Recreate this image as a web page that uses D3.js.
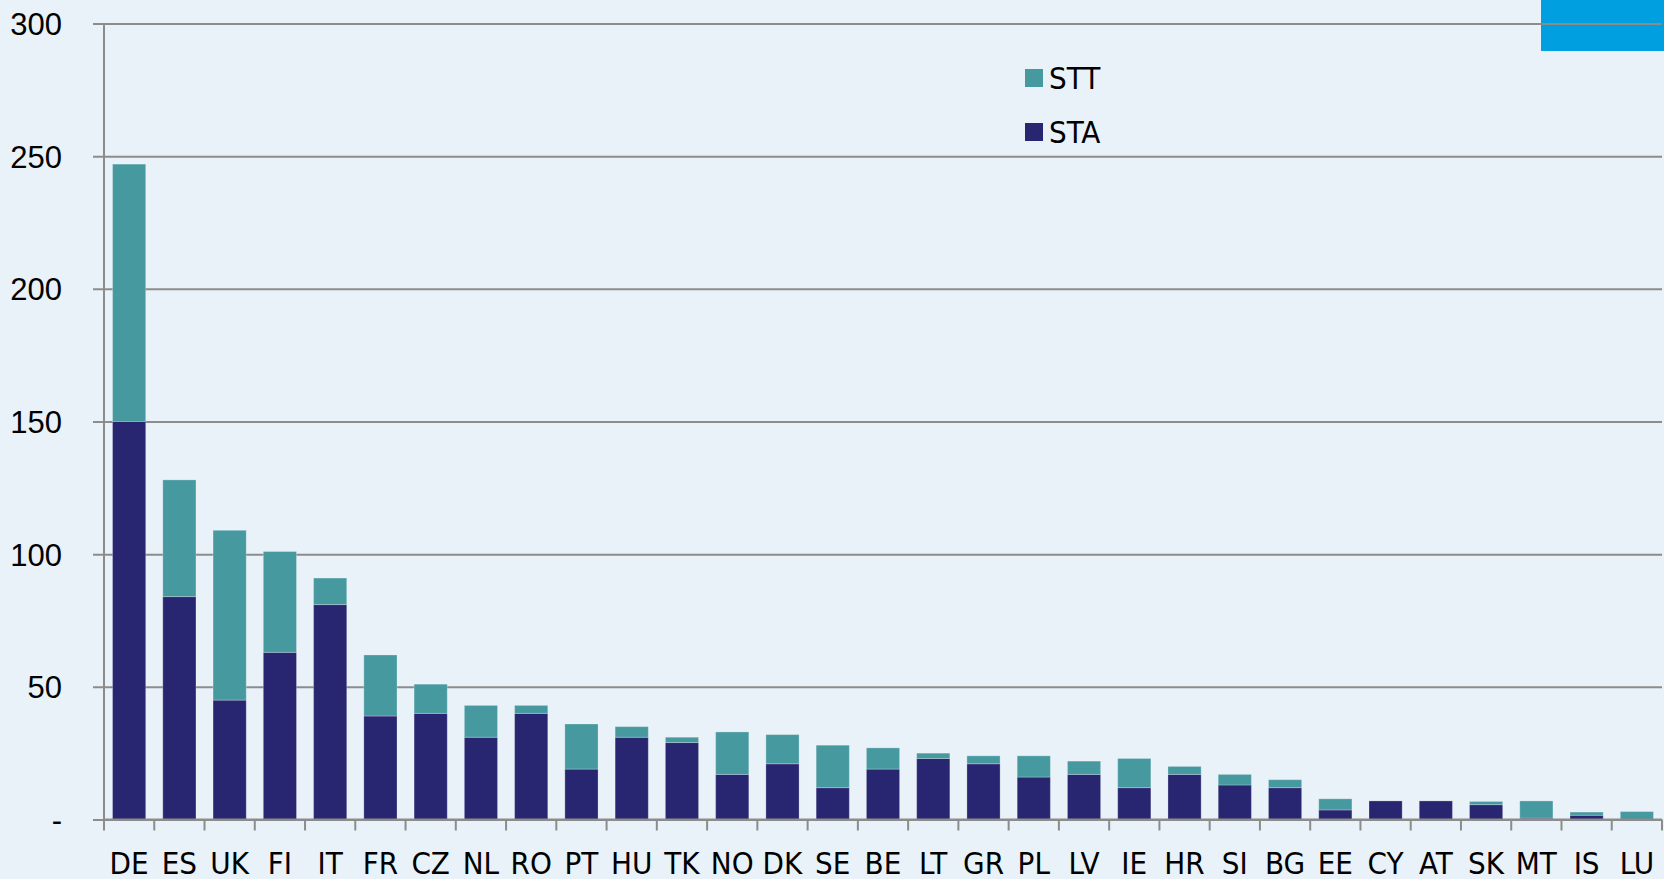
<!DOCTYPE html>
<html>
  <head>
    <meta charset="UTF-8">
    <title>STA and STT by country</title>
    <script src="https://d3js.org/d3.v7.min.js"></script>
    <style>
      :root {
        --background: #e9f2f8;
      }
      body {
        margin: 0;
        background-color: var(--background);
      }
      svg.chart {
        font-family: "DejaVu Sans Condensed", "Liberation Sans", sans-serif;
        background-color: var(--background);
        display: block;
      }
    </style>
  </head>
  <body>
    <div id="chart"></div>
    <script>

      // Data
      const countries = ["DE", "ES", "UK", "FI", "IT", "FR", "CZ", "NL", "RO", "PT", "HU", "TK", "NO", "DK", "SE",
        "BE", "LT", "GR", "PL", "LV", "IE", "HR", "SI", "BG", "EE", "CY", "AT", "SK", "MT", "IS", "LU"];
      const staValues = [150, 84, 45, 63, 81, 39, 40, 31, 40, 19, 31, 29, 17, 21, 12,
        19, 23, 21, 16, 17, 12, 17, 13, 12, 3.6, 7, 7, 5.6, 0.5, 1.6, 0];
      const sttValues = [97, 44, 64, 38, 10, 23, 11, 12, 3, 17, 4, 2, 16, 11, 16,
        8, 2, 3, 8, 5, 11, 3, 4, 3, 4.2, 0, 0, 1.2, 6.5, 1.2, 3];
      const seriesKeys = ["STA", "STT"];
      const yTicks = [0, 50, 100, 150, 200, 250, 300];

      const colors = { STA: "#282670", STT: "#4799a0" };

      // Dimensions
      const width = 1664;
      const height = 879;
      const margin = { top: 23.5, right: 2, bottom: 59.5, left: 104 };
      const innerWidth = width - margin.left - margin.right;
      const innerHeight = height - margin.top - margin.bottom;

      const svg = d3.select("#chart")
        .append("svg")
        .attr("width", width)
        .attr("height", height)
        .attr("class", "chart");

      // blue block in the top right corner
      svg.append("rect")
        .attr("x", 1541)
        .attr("y", 0)
        .attr("width", width - 1541)
        .attr("height", 51)
        .attr("fill", "#009fdf");

      const g = svg.append("g")
        .attr("transform", `translate(${margin.left}, ${margin.top})`);

      // build a table for d3.stack
      const table = countries.map((c, i) => ({ country: c, STA: staValues[i], STT: sttValues[i] }));
      const stacked = d3.stack().keys(seriesKeys)(table);

      // Scales
      const x = d3.scaleBand()
        .domain(countries)
        .range([0, innerWidth])
        .paddingInner(0.34)
        .paddingOuter(0.17);
      const y = d3.scaleLinear()
        .domain([0, 300])
        .range([innerHeight, 0]);

      // Gridlines + y axis labels
      const yAxis = d3.axisLeft(y)
        .tickValues(yTicks)
        .tickSize(-(innerWidth + 11))
        .tickFormat(d => d === 0 ? "-" : d);

      const yAxisG = g.append("g")
        .attr("transform", "translate(-11, 0)")
        .call(yAxis);
      yAxisG.select(".domain").remove();
      yAxisG.selectAll(".tick line")
        .attr("stroke", "#8c8c8c")
        .attr("stroke-width", 2);
      yAxisG.selectAll(".tick text")
        .attr("x", -31)
        .attr("dy", "0.35em")
        .attr("fill", "#000")
        .style("font-size", "31px")
        .style("font-family", "inherit");

      // Bars
      g.selectAll("g.series")
        .data(stacked)
        .enter()
        .append("g")
        .attr("class", "series")
        .attr("fill", d => colors[d.key])
        .selectAll("rect")
        .data(d => d)
        .enter()
        .append("rect")
        .attr("x", d => x(d.data.country))
        .attr("y", d => y(d[1]))
        .attr("width", x.bandwidth())
        .attr("height", d => y(d[0]) - y(d[1]))
        .attr("stroke", "rgba(255,255,255,0.25)")
        .attr("stroke-width", 1);

      // vertical axis line
      g.append("line")
        .attr("x1", 0)
        .attr("x2", 0)
        .attr("y1", 0)
        .attr("y2", innerHeight)
        .attr("stroke", "#8c8c8c")
        .attr("stroke-width", 2);

      // X axis with ticks at band boundaries
      const xAxisG = g.append("g")
        .attr("transform", `translate(0, ${innerHeight})`);

      xAxisG.append("line")
        .attr("x1", 0)
        .attr("x2", innerWidth)
        .attr("stroke", "#8c8c8c")
        .attr("stroke-width", 2);

      const step = x.step();
      const boundaries = d3.range(countries.length + 1).map(i => i * step);
      xAxisG.selectAll("line.xtick")
        .data(boundaries)
        .enter()
        .append("line")
        .attr("class", "xtick")
        .attr("x1", d => d)
        .attr("x2", d => d)
        .attr("y1", 0)
        .attr("y2", 11)
        .attr("stroke", "#8c8c8c")
        .attr("stroke-width", 2);

      xAxisG.selectAll("text")
        .data(countries)
        .enter()
        .append("text")
        .attr("x", d => x(d) + x.bandwidth() / 2)
        .attr("y", 54)
        .attr("text-anchor", "middle")
        .style("font-size", "31px")
        .text(d => d);

      // Legend
      const legendItems = ["STT", "STA"];
      const legend = svg.append("g")
        .attr("transform", "translate(1025, 69)");

      legend.selectAll("rect")
        .data(legendItems)
        .enter()
        .append("rect")
        .attr("x", 0)
        .attr("y", (d, i) => i * 54)
        .attr("width", 18)
        .attr("height", 18)
        .attr("fill", d => colors[d]);

      legend.selectAll("text")
        .data(legendItems)
        .enter()
        .append("text")
        .attr("x", 24)
        .attr("y", (d, i) => i * 54 + 20)
        .style("font-size", "31px")
        .text(d => d);

    </script>
  </body>
</html>
